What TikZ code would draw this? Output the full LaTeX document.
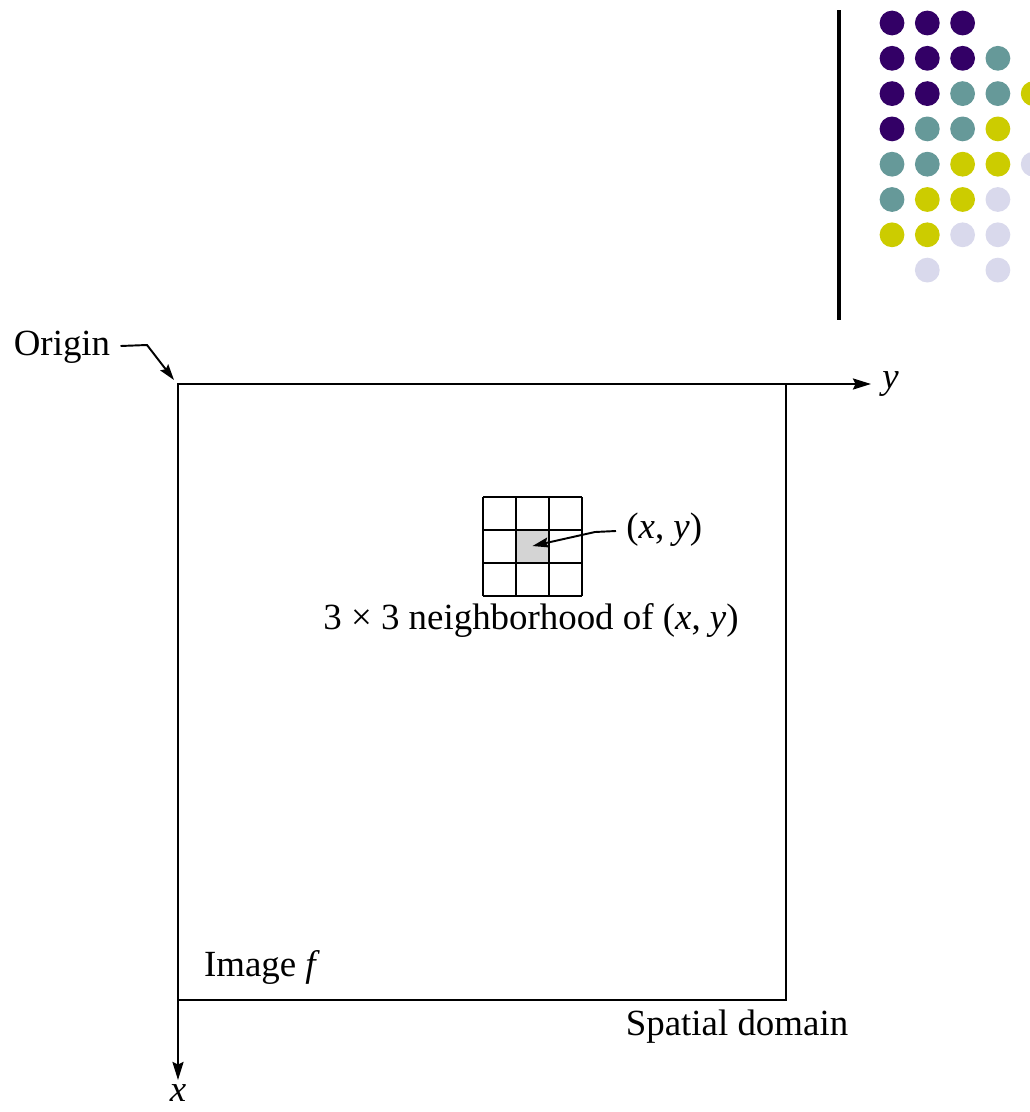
\documentclass[tikz,border=0pt]{standalone}
\usepackage{fontspec}
\setmainfont{Liberation Serif}
\usepackage{tikz}
\usetikzlibrary{arrows.meta,positioning,calc}
\definecolor{dotpurple}{HTML}{330066}
\definecolor{dotteal}{HTML}{669999}
\definecolor{dotyellow}{HTML}{CCCC00}
\definecolor{dotlilac}{HTML}{D9D9EC}
\definecolor{cellgray}{HTML}{D4D4D4}

\begin{document}
\begin{tikzpicture}[
  x=0.02cm, y=-0.02cm,
  lbl/.style={inner sep=0pt, font=\fontsize{21}{25}\selectfont},
  axis/.style={line width=1.3pt, -{Stealth[length=3.6mm,width=2.2mm,inset=0.5mm]}},
  pointer/.style={line width=1.1pt, -{Stealth[length=3.2mm,width=2mm,inset=0.5mm]}},
  >=Stealth
]
\useasboundingbox (0,0) rectangle (1030,1112);

% slide decoration
\draw[line width=2.2pt] (839,10) -- (839,320);
\foreach \i/\j/\clr in {0/0/dotpurple,1/0/dotpurple,2/0/dotpurple,
  0/1/dotpurple,1/1/dotpurple,2/1/dotpurple,3/1/dotteal,
  0/2/dotpurple,1/2/dotpurple,2/2/dotteal,3/2/dotteal,4/2/dotyellow,
  0/3/dotpurple,1/3/dotteal,2/3/dotteal,3/3/dotyellow,
  0/4/dotteal,1/4/dotteal,2/4/dotyellow,3/4/dotyellow,4/4/dotlilac,
  0/5/dotteal,1/5/dotyellow,2/5/dotyellow,3/5/dotlilac,
  0/6/dotyellow,1/6/dotyellow,2/6/dotlilac,3/6/dotlilac,
  1/7/dotlilac,3/7/dotlilac}
  \fill[\clr] (892+35.3*\i,23+35.3*\j) circle[radius=12.4];

% image frame and axes
\coordinate (o) at (178,384);
\coordinate (yend) at (871,384);
\coordinate (xend) at (178,1080);
\draw[line width=1.3pt] (o) rectangle (786,1000);
\draw[axis] (o) -- (yend);
\draw[axis] (o) -- (xend);
\node[lbl, right=0.22cm of yend] (ylab) {\textit{y}};
\node[lbl] (xlab) at (178,1093) {\textit{x}};

\node[lbl] (origin) at (62,347) {Origin};
\draw[pointer] (origin.east) ++(10,-1) -- (147,345) -- ($(o)+(-4,-4)$);

% 3x3 neighborhood
\node[draw=none, fill=cellgray, minimum size=0.66cm, inner sep=0pt] (cell) at (532.5,546) {};
\foreach \k in {0,...,3} {
  \draw[line width=1.1pt] (483+33*\k,497) -- (483+33*\k,596);
  \draw[line width=1.1pt] (483,497+33*\k) -- (582,497+33*\k);
}
\node[lbl, anchor=west] (pxy) at (626,530) {(\textit{x}, \textit{y})};
\draw[pointer] (pxy.west) ++(-10,1) -- (595,532) -- (cell.center);
\node[lbl] (nbh) at (531,620) {3 × 3 neighborhood of (\textit{x}, \textit{y})};

\node[lbl] (imgf) at (262,967) {Image \textit{f}};
\node[lbl] (spatial) at (737,1027) {Spatial domain};
\end{tikzpicture}
\end{document}
